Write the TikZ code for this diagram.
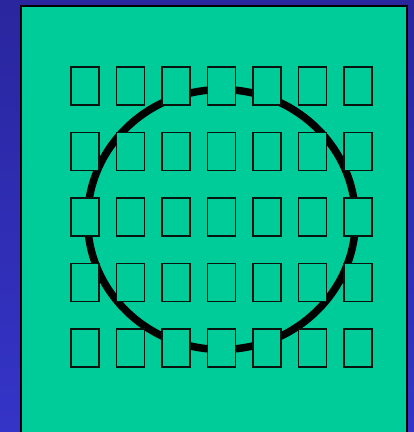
\documentclass[tikz,border=0pt]{standalone}
\definecolor{bgtop}{RGB}{42,38,158}
\definecolor{bgbot}{RGB}{52,52,200}
\definecolor{panel}{RGB}{0,204,153}
\definecolor{boxline}{RGB}{10,20,15}
\tikzset{
  cell/.style={draw=boxline, line width=1.8pt, fill=panel, minimum width=28pt, minimum height=38pt, inner sep=0pt},
}
\begin{document}
\begin{tikzpicture}[x=1pt,y=-1pt]
\useasboundingbox (0,0) rectangle (414,432);
\shade[top color=bgtop, bottom color=bgbot] (0,0) rectangle (414,432);
\draw[fill=panel, draw=black, line width=2pt] (21,6) rectangle (407,440);
\draw[line width=7.5pt, black] (221.5,219.5) ellipse [x radius=134, y radius=130];
\foreach \j in {0,...,4}{
  \foreach \k in {0,...,6}{
    \node[cell] (c\j\k) at ({85+45.5*\k},{86+65.5*\j}) {};
  }
}
\end{tikzpicture}
\end{document}
